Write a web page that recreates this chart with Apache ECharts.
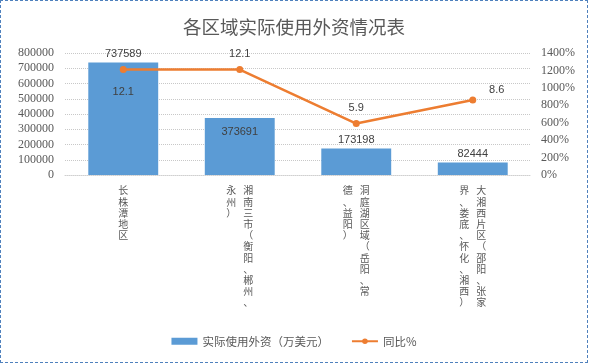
<!DOCTYPE html>
<html>
<head>
<meta charset="utf-8">
<script src="https://cdn.jsdelivr.net/npm/echarts@6/dist/echarts.min.js"></script>
<style>
html,body{margin:0;padding:0;background:#fff;}
#wrap{position:absolute;left:0;top:0;width:586px;height:361px;border:1px dashed #4f81bd;}
#chart{width:586px;height:361px;}
</style>
</head>
<body>
<div id="wrap"><div id="chart"></div></div>
<script>
var titleText = '各区域实际使用外资情况表';
var categories = ['长株潭地区', '湘南三市（衡阳、郴州、永州）', '洞庭湖区域（岳阳、常德、益阳）', '大湘西片区（邵阳、张家界、娄底、怀化、湘西）'];
var barName = '实际使用外资（万美元）';
var lineName = '同比%';
var barValues = [737589, 373691, 173198, 82444];
var lineValues = [12.1, 12.1, 5.9, 8.6];
var leftTicks = {min: 0, max: 800000, interval: 100000};
var rightTicks = {min: 0, max: 14, interval: 2};

function verticalLabel(s) {
  var maxPer = 11, noStart = '、，。）';
  var cols = [], rest = s.split('');
  while (rest.length) {
    var n = Math.min(maxPer, rest.length);
    while (n < rest.length && noStart.indexOf(rest[n]) >= 0 && n > 1) n--;
    cols.push(rest.slice(0, n));
    rest = rest.slice(n);
  }
  var rows = Math.max.apply(null, cols.map(function (c) { return c.length; }));
  var lines = [];
  for (var i = 0; i < rows; i++) {
    var parts = [];
    for (var c = cols.length - 1; c >= 0; c--) {
      parts.push(cols[c][i] || '\u3000');
    }
    lines.push(parts.join('\u2002\u2009'));
  }
  return lines.join('\n');
}

var chart = echarts.init(document.getElementById('chart'));
var grey = '#595959';
var serif = "'Liberation Serif', 'Times New Roman', serif";
chart.setOption({
  animation: false,
  backgroundColor: '#fff',
  title: {
    text: titleText, left: 'center', top: 12,
    textStyle: {fontFamily: 'Noto Sans CJK SC', fontSize: 18.5, fontWeight: 'normal', color: grey}
  },
  grid: {left: 64, right: 56, top: 52, bottom: 187},
  legend: {
    bottom: 10, left: 'center', itemGap: 22, itemWidth: 26, itemHeight: 7,
    textStyle: {fontFamily: 'Noto Sans CJK SC', fontSize: 11.5, color: grey},
    data: [{name: barName, icon: 'rect'}, {name: lineName}]
  },
  xAxis: {
    type: 'category', data: categories,
    axisLine: {show: true, lineStyle: {color: '#d0d0d0', type: 'dotted'}},
    axisTick: {show: false},
    axisLabel: {
      interval: 0, margin: 10, color: grey, fontFamily: 'Noto Sans CJK SC', fontSize: 10, lineHeight: 11.2,
      align: 'center', verticalAlign: 'top',
      formatter: verticalLabel
    }
  },
  yAxis: [{
    type: 'value', min: leftTicks.min, max: leftTicks.max, interval: leftTicks.interval,
    axisLine: {show: false}, axisTick: {show: false},
    splitLine: {lineStyle: {color: '#c8c8c8', type: 'dotted'}},
    axisLabel: {color: grey, fontFamily: serif, fontSize: 12, margin: 11,
      formatter: function (v) { return String(v); }}
  }, {
    type: 'value', min: rightTicks.min, max: rightTicks.max, interval: rightTicks.interval,
    axisLine: {show: false}, axisTick: {show: false}, splitLine: {show: false},
    axisLabel: {color: grey, fontFamily: serif, fontSize: 12, margin: 10,
      formatter: function (v) { return Math.round(v * 100) + '%'; }}
  }],
  series: [{
    name: barName, type: 'bar', data: barValues, barWidth: '60%',
    itemStyle: {color: '#5b9bd5'},
    label: {
      show: true, position: 'top', distance: 3, color: '#404040', fontFamily: 'Liberation Sans', fontSize: 11
    },
    labelLayout: function (p) {
      if (p.dataIndex === 1) return {dy: 22};
      return {};
    }
  }, {
    name: lineName, type: 'line', yAxisIndex: 1, data: lineValues,
    symbol: 'circle', symbolSize: 7,
    lineStyle: {color: '#ed7d31', width: 2.5},
    itemStyle: {color: '#ed7d31'},
    label: {
      show: true, position: 'top', distance: 7, color: '#404040', fontFamily: 'Liberation Sans', fontSize: 11
    },
    labelLayout: function (p) {
      if (p.dataIndex === 0) return {dy: 38};
      if (p.dataIndex === 3) return {dx: 24, dy: 6};
      return {};
    }
  }]
});
</script>
</body>
</html>
